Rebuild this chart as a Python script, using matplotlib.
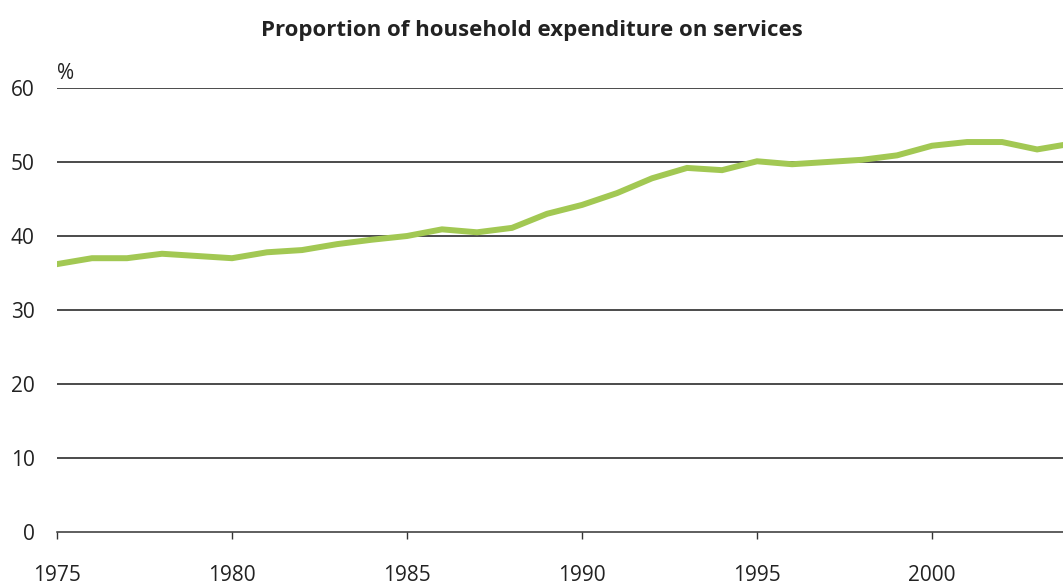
import matplotlib
matplotlib.use("Agg")
import matplotlib.pyplot as plt

# household spending on services, % of total
years = list(range(1975, 2005))
services_share = [36.2, 37.0, 37.0, 37.6, 37.3, 37.0, 37.8, 38.1, 38.9, 39.5,
                  40.0, 40.9, 40.5, 41.1, 43.0, 44.2, 45.8, 47.8, 49.2, 48.9,
                  50.1, 49.7, 50.0, 50.3, 50.9, 52.2, 52.7, 52.7, 51.7, 52.5]
y_ticks = [0, 10, 20, 30, 40, 50, 60]
x_ticks = [1975, 1980, 1985, 1990, 1995, 2000]

plt.rcParams['font.family'] = ['Open Sans', 'DejaVu Sans']

fig = plt.figure(figsize=(10.63, 5.86), dpi=100)
ax = fig.add_axes([0.0536, 0.0922, 0.9464, 0.7576])

ax.plot(years, services_share, color='#a2c853', lw=4.3, solid_joinstyle='miter',
        zorder=3)

ax.set_xlim(1975, 2003.74)
ax.set_ylim(0, 60)
ax.set_yticks(y_ticks)
ax.set_xticks(x_ticks)
for v in y_ticks[1:]:
    ax.axhline(v, color='#1a1a1a', lw=1.1, zorder=1)

for s in ['top', 'right', 'left']:
    ax.spines[s].set_visible(False)
ax.spines['bottom'].set_color('#333333')
ax.spines['bottom'].set_linewidth(1.1)
ax.tick_params(axis='y', length=0, pad=16, labelsize=15, labelcolor='#222222')
ax.tick_params(axis='x', length=5, width=1, color='#333333', direction='out',
               pad=19, labelsize=15, labelcolor='#222222')

ax.text(0.0536, 0.866, '%', transform=fig.transFigure, fontsize=15,
        color='#222222', ha='left', va='baseline')
fig.text(0.50, 0.948, 'Proportion of household expenditure on services',
         ha='center', va='center', fontsize=16, fontweight='bold', color='#222222')

fig.savefig('out.png', dpi=100)
